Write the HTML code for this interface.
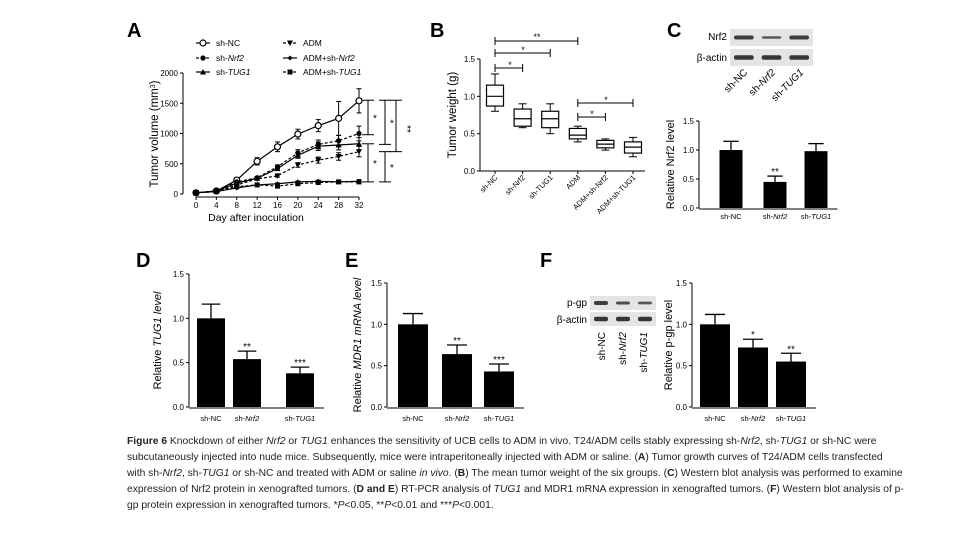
<!DOCTYPE html>
<html><head><meta charset="utf-8"><style>
body{margin:0;background:#fff;width:956px;height:549px;overflow:hidden;font-family:"Liberation Sans",sans-serif;}
#cap{position:absolute;left:127px;top:434px;width:702px;font-size:10.3px;line-height:16px;color:#222;}
#cap div{text-align:justify;text-align-last:justify;white-space:nowrap;}
#cap div.last{text-align-last:left;}
svg text{font-family:"Liberation Sans",sans-serif;}
</style></head><body>
<svg id="fig" width="956" height="549" style="position:absolute;left:0;top:0"></svg>
<div id="cap">
<div><b>Figure 6</b> Knockdown of either <i>Nrf2</i> or <i>TUG1</i> enhances the sensitivity of UCB cells to ADM in vivo. T24/ADM cells stably expressing sh-<i>Nrf2</i>, sh-<i>TUG1</i> or sh-NC were</div>
<div>subcutaneously injected into nude mice. Subsequently, mice were intraperitoneally injected with ADM or saline. (<b>A</b>) Tumor growth curves of T24/ADM cells transfected</div>
<div>with sh-<i>Nrf2</i>, sh-<i>TUG1</i> or sh-NC and treated with ADM or saline <i>in vivo</i>. (<b>B</b>) The mean tumor weight of the six groups. (<b>C</b>) Western blot analysis was performed to examine</div>
<div>expression of Nrf2 protein in xenografted tumors. (<b>D and E</b>) RT-PCR analysis of <i>TUG1</i> and MDR1 mRNA expression in xenografted tumors. (<b>F</b>) Western blot analysis of p-</div>
<div class="last">gp protein expression in xenografted tumors. *<i>P</i>&lt;0.05, **<i>P</i>&lt;0.01 and ***<i>P</i>&lt;0.001.</div>
</div>
<script>
// ---- Panel A data ----
const daysA=[0,4,8,12,16,20,24,28,32];
const aNames=['sh-NC','sh-Nrf2','sh-TUG1','ADM','ADM+sh-Nrf2','ADM+sh-TUG1'];
const aNC=[20,50,230,540,780,990,1130,1250,1540];
const aNrf2=[20,50,200,270,450,680,820,880,1000];
const aTUG1=[20,50,180,260,420,640,790,810,830];
const aADM=[20,40,150,250,300,480,560,620,700];
const aADMNrf2=[20,40,100,150,170,200,210,200,210];
const aADMTUG1=[20,40,120,150,130,170,190,200,200];
const aErrNC=[5,10,40,60,80,80,100,280,200];
const aErrOther=[5,10,25,40,60,70,80,90,110];
const yTicksA=[0,500,1000,1500,2000];
// ---- Panel B data ----
const bCats=['sh-NC','sh-Nrf2','sh-TUG1','ADM','ADM+sh-Nrf2','ADM+sh-TUG1'];
const bMin=[0.80,0.58,0.50,0.39,0.28,0.19];
const bQ1=[0.87,0.60,0.58,0.43,0.31,0.24];
const bMed=[1.00,0.70,0.70,0.48,0.36,0.32];
const bQ3=[1.15,0.83,0.80,0.57,0.41,0.39];
const bMax=[1.30,0.90,0.90,0.60,0.43,0.45];
const yTicksB=[0.0,0.5,1.0,1.5];
// ---- Bar panels ----
const barCats=['sh-NC','sh-Nrf2','sh-TUG1'];
const cVals=[1.0,0.45,0.98], cErr=[0.15,0.10,0.13], cStars=['','**',''];
const dVals=[1.0,0.54,0.38], dErr=[0.16,0.09,0.07], dStars=['','**','***'];
const eVals=[1.0,0.64,0.43], eErr=[0.13,0.11,0.09], eStars=['','**','***'];
const fVals=[1.0,0.72,0.55], fErr=[0.12,0.10,0.10], fStars=['','*','**'];
const barTicks=['0.0','0.5','1.0','1.5'];

const svg=document.getElementById('fig');
const NS='http://www.w3.org/2000/svg';
function mk(tag,attrs,name,parent){
  const el=document.createElementNS(NS,tag);
  for(const k in attrs) el.setAttribute(k,attrs[k]);
  
  
  (parent||svg).appendChild(el);
  return el;
}
function ln(x1,y1,x2,y2,name,w,dash){return mk('line',{x1,y1,x2,y2,stroke:'#000','stroke-width':w||1,'stroke-dasharray':dash||'none'},name);}
function tx(x,y,s,name,size,anchor,extra){const t=mk('text',Object.assign({x,y,'font-size':size||8,'text-anchor':anchor||'middle',fill:'#000'},extra||{}),name);t.innerHTML=s;return t;}
function lab(s){return s.replace(/sh-(Nrf2|TUG1)/,'sh-<tspan font-style="italic">$1</tspan>');}

// panel letters
tx(127,37,'A','panel-label-a',20,'start',{'font-weight':'bold'});
tx(430,37,'B','panel-label-b',20,'start',{'font-weight':'bold'});
tx(667,37,'C','panel-label-c',20,'start',{'font-weight':'bold'});
tx(136,267,'D','panel-label-d',20,'start',{'font-weight':'bold'});
tx(345,267,'E','panel-label-e',20,'start',{'font-weight':'bold'});
tx(540,267,'F','panel-label-f',20,'start',{'font-weight':'bold'});

// ---- Panel A ----
const xA=d=>196+d*(359-196)/32;
const yA=v=>194-v*(121/2000);
ln(183,73,183,194,'a-y-axis');
ln(196,197,359,197,'a-x-axis');
yTicksA.forEach(v=>{ln(180,yA(v),183,yA(v),'a-y-tick');tx(178,yA(v)+3,v,'a-y-tick-label',8,'end');});
daysA.forEach(d=>{ln(xA(d),197,xA(d),200,'a-x-tick');tx(xA(d),208,d,'a-x-tick-label',8);});
tx(256,221,'Day after inoculation','a-x-axis-title',10.5);
tx(0,0,'Tumor volume (mm<tspan baseline-shift="super" font-size="7">3</tspan>)','a-y-axis-title',11.5,'middle',{transform:'translate(158,134) rotate(-90)'});
function marker(kind,x,y,name){
  if(kind==='oc') mk('circle',{cx:x,cy:y,r:3,fill:'#fff',stroke:'#000','stroke-width':1.2},name);
  else if(kind==='fc') mk('circle',{cx:x,cy:y,r:2.6,fill:'#000'},name);
  else if(kind==='tu') mk('polygon',{points:`${x-3},${y+2.5} ${x+3},${y+2.5} ${x},${y-3}`,fill:'#000'},name);
  else if(kind==='td') mk('polygon',{points:`${x-3},${y-2.5} ${x+3},${y-2.5} ${x},${y+3}`,fill:'#000'},name);
  else if(kind==='dm') mk('polygon',{points:`${x-2.5},${y} ${x},${y-2.5} ${x+2.5},${y} ${x},${y+2.5}`,fill:'#000'},name);
  else mk('rect',{x:x-2.5,y:y-2.5,width:5,height:5,fill:'#000'},name);
}
const seriesA=[[aNC,'oc',null,'series-sh-nc'],[aNrf2,'fc','3,2','series-sh-nrf2'],[aTUG1,'tu',null,'series-sh-tug1'],[aADM,'td','3,2','series-adm'],[aADMNrf2,'dm',null,'series-adm-sh-nrf2'],[aADMTUG1,'sq','3,2','series-adm-sh-tug1']];
seriesA.forEach(([vals,kind,dash,name],si)=>{
  const err=si===0?aErrNC:aErrOther.map((e,i)=>e*Math.max(vals[i],100)/900);
  mk('polyline',{points:vals.map((v,i)=>xA(daysA[i])+','+yA(v)).join(' '),fill:'none',stroke:'#000','stroke-width':1.2,'stroke-dasharray':dash||'none'},name+'-line');
  vals.forEach((v,i)=>{const x=xA(daysA[i]);
    ln(x,yA(v-err[i]),x,yA(v+err[i]),name+'-error-bar',1);
    ln(x-2.5,yA(v+err[i]),x+2.5,yA(v+err[i]),name+'-error-cap',1);
    ln(x-2.5,yA(v-err[i]),x+2.5,yA(v-err[i]),name+'-error-cap',1);
    marker(kind,x,yA(v),name+'-point');});
});
// legend
const legPos=[[203,43],[203,58],[203,72],[290,43],[290,58],[290,72]];
seriesA.forEach(([vals,kind,dash,name],i)=>{const [x,y]=legPos[i];
  ln(x-7,y,x+7,y,'legend-line-'+name,1.2,dash);marker(kind,x,y,'legend-marker-'+name);
  tx(x+13,y+3,lab(aNames[i]),'legend-entry-'+name,8.5,'start');});
// significance brackets
function bracket(x,v1,v2,star,name){ln(x,yA(v1),x,yA(v2),name);ln(x-6,yA(v1),x+6,yA(v1),name);ln(x-6,yA(v2),x+6,yA(v2),name);
  tx(x+5,(yA(v1)+yA(v2))/2+4,star,name+'-star',10,'start');}
bracket(368,1550,980,'*','a-sig-1');
bracket(385,1550,820,'*','a-sig-2');
bracket(396,1550,700,'','a-sig-3');
tx(0,0,'**','a-sig-3-star',10,'middle',{transform:'translate(404,129) rotate(90)'});
bracket(368,830,200,'*','a-sig-4');
bracket(385,700,200,'*','a-sig-5');

// ---- Panel B ----
const yB=v=>171-v*(112/1.5);
const xB=i=>495+i*27.6;
ln(480,59,480,171,'b-y-axis');
ln(480,171,645,171,'b-x-axis');
yTicksB.forEach(v=>{ln(477,yB(v),480,yB(v),'b-y-tick');tx(475,yB(v)+3,v.toFixed(1),'b-y-tick-label',8,'end');});
tx(0,0,'Tumor weight (g)','b-y-axis-title',11.5,'middle',{transform:'translate(456,115) rotate(-90)'});
bCats.forEach((c,i)=>{const x=xB(i),w=8.5;
  ln(x,171,x,174,'b-x-tick');
  ln(x,yB(bMin[i]),x,yB(bQ1[i]),'box-whisker-'+i);ln(x,yB(bQ3[i]),x,yB(bMax[i]),'box-whisker-'+i);
  ln(x-4,yB(bMin[i]),x+4,yB(bMin[i]),'box-whisker-cap-'+i);ln(x-4,yB(bMax[i]),x+4,yB(bMax[i]),'box-whisker-cap-'+i);
  mk('rect',{x:x-w,y:yB(bQ3[i]),width:2*w,height:yB(bQ1[i])-yB(bQ3[i]),fill:'#fff',stroke:'#000','stroke-width':1.2},'box-'+i);
  ln(x-w,yB(bMed[i]),x+w,yB(bMed[i]),'box-median-'+i,1.2);
  tx(0,0,c,'b-x-tick-label',7.5,'end',{transform:`translate(${x+3},${178}) rotate(-45)`});
});
function bbr(i1,i2,y,name){ln(xB(i1),y,xB(i2),y,name);ln(xB(i1),y-4,xB(i1),y+4,name);ln(xB(i2),y-4,xB(i2),y+4,name);}
bbr(0,3,41,'b-sig-nc-adm');tx(537,40,'**','b-sig-star',9);
bbr(0,2,53,'b-sig-nc-tug1');tx(523,53,'*','b-sig-star',9);
bbr(0,1,68,'b-sig-nc-nrf2');tx(510,68,'*','b-sig-star',9);
bbr(3,5,103,'b-sig-adm-tug1');tx(606,103,'*','b-sig-star',9);
bbr(3,4,117,'b-sig-adm-nrf2');tx(592,117,'*','b-sig-star',9);

// ---- blots ----
function blot(x,y,w,h,intens,name){
  mk('rect',{x,y,width:w,height:h,fill:'#e4e4e4'},name);
  intens.forEach((a,i)=>{const lw=w/3;mk('rect',{x:x+i*lw+4,y:y+h/2-2.2*a,width:lw-8,height:4.4*a,rx:2,fill:'#222',opacity:0.5+0.4*a},name+'-band');});
}
blot(730,29,83,17,[0.9,0.55,0.9],'c-blot-nrf2');
blot(730,49,83,17,[1,1,1],'c-blot-actin');
tx(727,40,'Nrf2','c-blot-label',10,'end');tx(727,61,'β-actin','c-blot-label',10,'end');
barCats.forEach((c,i)=>tx(0,0,lab(c),'c-lane-label',10,'end',{transform:`translate(${748+i*28},${73}) rotate(-45)`}));
blot(590,296,66,14,[0.9,0.7,0.6],'f-blot-pgp');
blot(590,312,66,14,[1,1,1],'f-blot-actin');
tx(587,306,'p-gp','f-blot-label',10,'end');tx(587,323,'β-actin','f-blot-label',10,'end');
barCats.forEach((c,i)=>tx(0,0,lab(c),'f-lane-label',10,'end',{transform:`translate(${605+i*21},${332}) rotate(-90)`}));

// ---- bar panels ----
function barPanel(p,axX,y0,y15,centers,bw,vals,errs,stars,title,tx0,labY){
  const yS=v=>y0-v*(y0-y15)/1.5;
  ln(axX,y15,axX,y0,p+'-y-axis');
  ln(axX,y0+1,centers[2]+bw/2+10,y0+1,p+'-x-axis');
  barTicks.forEach(t=>{const v=+t;ln(axX-3,yS(v),axX,yS(v),p+'-y-tick');tx(axX-5,yS(v)+3,t,p+'-y-tick-label',8,'end');});
  vals.forEach((v,i)=>{const x=centers[i];
    ln(x,yS(v),x,yS(v+errs[i]),p+'-error-bar',1.3);ln(x-bw/3,yS(v+errs[i]),x+bw/3,yS(v+errs[i]),p+'-error-cap',1.3);
    mk('rect',{x:x-bw/2,y:yS(v),width:bw,height:y0-yS(v),fill:'#000'},p+'-bar-'+i);
    if(stars[i]) tx(x,yS(v+errs[i])-1,stars[i],p+'-sig-star',10);
    tx(x,labY,lab(barCats[i]),p+'-x-tick-label',7.5);
  });
  tx(0,0,title,p+'-y-axis-title',11,'middle',{transform:`translate(${tx0},${(y0+y15)/2}) rotate(-90)`});
}
barPanel('c',699,208,121,[731,775,816],23,cVals,cErr,cStars,'Relative Nrf2 level',674,219);
barPanel('d',189,407,274,[211,247,300],28,dVals,dErr,dStars,'Relative <tspan font-style="italic">TUG1 level</tspan>',161,421);
barPanel('e',387,407,283,[413,457,499],30,eVals,eErr,eStars,'Relative <tspan font-style="italic">MDR1 mRNA level</tspan>',361,421);
barPanel('f',692,407,283,[715,753,791],30,fVals,fErr,fStars,'Relative p-gp level',672,421);
</script>
</body></html>
